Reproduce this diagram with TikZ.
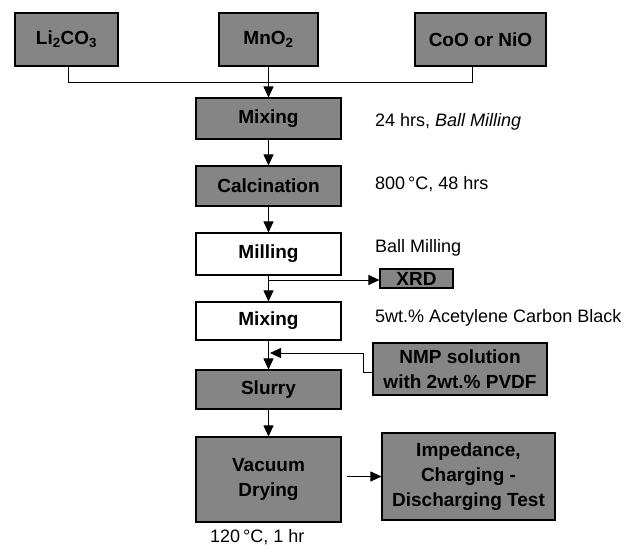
\documentclass[tikz,border=0pt]{standalone}
\usepackage{fontspec}
\setmainfont{Liberation Sans}
\usetikzlibrary{arrows.meta}
\begin{document}
\begin{tikzpicture}[x=1pt,y=-1pt,
  box/.style={draw=black,line width=1.1pt,inner sep=0pt,align=center,
    font=\fontsize{19}{25}\selectfont\bfseries},
  graybox/.style={box,fill=black!48},
  whitebox/.style={box,fill=white},
  lbl/.style={anchor=west,inner sep=0pt,font=\fontsize{18}{22}\selectfont},
  conn/.style={line width=0.9pt},
  arr/.style={conn,-{Triangle[length=11pt,width=10pt]}}]
\useasboundingbox (0,0) rectangle (638,547);
% top raw materials
\node[graybox,minimum width=103pt,minimum height=53pt] (li) at (66.5,39.5) {Li\textsubscript{2}CO\textsubscript{3}};
\node[graybox,minimum width=99pt,minimum height=53pt] (mn) at (268.5,39.5) {MnO\textsubscript{2}};
\node[graybox,minimum width=131pt,minimum height=53pt] (co) at (480.5,39.5) {CoO or NiO};
% main column
\node[graybox,minimum width=145pt,minimum height=41pt] (mix1) at (268.5,118.5) {Mixing};
\node[graybox,minimum width=145pt,minimum height=40pt] (calc) at (268.5,186) {Calcination};
\node[whitebox,minimum width=145pt,minimum height=42pt] (mill) at (268.5,254) {Milling};
\node[whitebox,minimum width=145pt,minimum height=38pt] (mix2) at (268.5,321) {Mixing};
\node[graybox,minimum width=145pt,minimum height=39pt] (slurry) at (268.5,389.5) {Slurry};
\node[graybox,minimum width=145pt,minimum height=85pt] (vac) at (268.5,479.5) {Vacuum\\Drying};
% side boxes
\node[graybox,minimum width=73pt,minimum height=19pt] (xrd) at (416.5,278.5) {XRD};
\node[graybox,minimum width=174pt,minimum height=52pt] (nmp) at (460,369) {NMP solution\\with 2wt.\% PVDF};
\node[graybox,minimum width=173pt,minimum height=87pt] (imp) at (468.5,476.5) {Impedance,\\Charging -\\Discharging Test};
% labels
\node[lbl] (l1) at (375,122) {24 hrs, \textit{Ball Milling}};
\node[lbl] (l2) at (375,184) {800\,°C, 48 hrs};
\node[lbl] (l3) at (375,248) {Ball Milling};
\node[lbl] (l4) at (375,318) {5wt.\% Acetylene Carbon Black};
\node[lbl] (l5) at (210,537) {120\,°C, 1 hr};
% connectors
\coordinate (jl) at (68,82);
\coordinate (jr) at (472,82);
\draw[conn] (li.south -| jl) -- (jl) -- (jr) -- (co.south -| jr);
\draw[arr] (mn.south) -- (mix1.north);
\draw[arr] (mix1) -- (calc);
\draw[arr] (calc) -- (mill);
\draw[arr] (mill) -- (mix2);
\coordinate (bx) at (268.5,280);
\draw[arr] (bx) -- (xrd.west |- bx);
\draw[arr] (mix2) -- (slurry);
\coordinate (n1) at (363,372);
\coordinate (n2) at (363,353);
\draw[arr] (nmp.west |- n1) -- (n1) -- (n2) -- (270,353);
\draw[arr] (slurry) -- (vac);
\draw[arr] ([xshift=5pt]vac.east |- imp.west) -- (imp.west);
\end{tikzpicture}
\end{document}
